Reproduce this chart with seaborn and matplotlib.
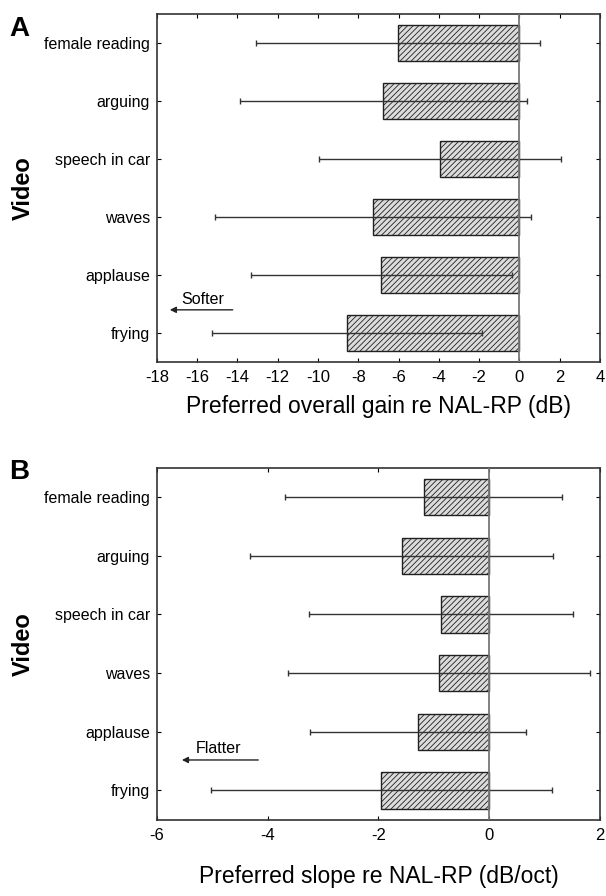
import matplotlib
matplotlib.use('Agg')
import matplotlib.pyplot as plt
import seaborn as sns
import pandas as pd

videos = ['female reading', 'arguing', 'speech in car', 'waves', 'applause', 'frying']

# panel A: preferred overall gain re NAL-RP (dB)
gain_mean = [-6.05, -6.75, -3.95, -7.25, -6.85, -8.55]
gain_sd = [7.05, 7.15, 6.0, 7.85, 6.5, 6.7]

# panel B: preferred slope re NAL-RP (dB/oct)
slope_mean = [-1.18, -1.58, -0.87, -0.91, -1.29, -1.95]
slope_sd = [2.5, 2.74, 2.38, 2.73, 1.95, 3.08]

sns.set_style('ticks')
plt.rcParams['font.family'] = ['Liberation Sans', 'DejaVu Sans']
plt.rcParams['hatch.linewidth'] = 0.6
plt.rcParams['text.color'] = 'black'
plt.rcParams['axes.labelcolor'] = 'black'
plt.rcParams['xtick.color'] = 'black'
plt.rcParams['ytick.color'] = 'black'

fig = plt.figure(figsize=(6.06, 8.96), dpi=100)
ax_a = fig.add_axes([0.259, 0.596, 0.731, 0.388])
ax_b = fig.add_axes([0.259, 0.085, 0.731, 0.393])


def draw_panel(ax, means, sds, xlim, xticks, xlabel, xlabelpad, note, note_xy, arrow_from, arrow_to):
    df = pd.DataFrame({'video': videos, 'value': means, 'sd': sds})
    sns.barplot(data=df, x='value', y='video', orient='h', color='#dcdcdc',
                edgecolor='#202020', linewidth=1.0, width=0.62, hatch='//////',
                errorbar=None, ax=ax, zorder=2)
    ax.errorbar(df['value'], range(len(videos)), xerr=df['sd'], fmt='none',
                ecolor='#333333', elinewidth=1.0, capsize=2, capthick=1.0, zorder=3)
    ax.axvline(0, color='#777777', lw=1.3, zorder=4)
    ax.set_xlim(*xlim)
    ax.set_ylim(5.5, -0.5)
    ax.set_xticks(xticks)
    ax.set_xticklabels([str(t) for t in xticks], fontsize=12)
    ax.tick_params(axis='y', labelsize=11.5, length=3, direction='in', right=True, pad=5)
    ax.tick_params(axis='x', length=3, direction='in', top=True, pad=6)
    ax.set_xlabel(xlabel, fontsize=16.5, labelpad=xlabelpad)
    ax.set_ylabel('Video', fontsize=17, fontweight='bold', labelpad=7)
    for s in ax.spines.values():
        s.set_linewidth(1.2)
        s.set_color('#333333')
        s.set_visible(True)
    ax.annotate('', xy=arrow_to, xytext=arrow_from,
                arrowprops=dict(arrowstyle='-|>', color='#222222', lw=1.0,
                                mutation_scale=9), zorder=5)
    ax.text(note_xy[0], note_xy[1], note, fontsize=11.5, ha='left', va='center')


draw_panel(ax_a, gain_mean, gain_sd, (-18, 4), list(range(-18, 5, 2)),
           'Preferred overall gain re NAL-RP (dB)', 7, 'Softer', (-16.8, 4.42),
           (-14.1, 4.6), (-17.5, 4.6))
draw_panel(ax_b, slope_mean, slope_sd, (-6, 2), [-6, -4, -2, 0, 2],
           'Preferred slope re NAL-RP (dB/oct)', 16, 'Flatter', (-5.3, 4.28),
           (-4.12, 4.48), (-5.6, 4.48))

fig.text(0.015, 0.96, 'A', fontsize=20, fontweight='bold')
fig.text(0.015, 0.465, 'B', fontsize=20, fontweight='bold')

fig.savefig('out.png', dpi=100)
